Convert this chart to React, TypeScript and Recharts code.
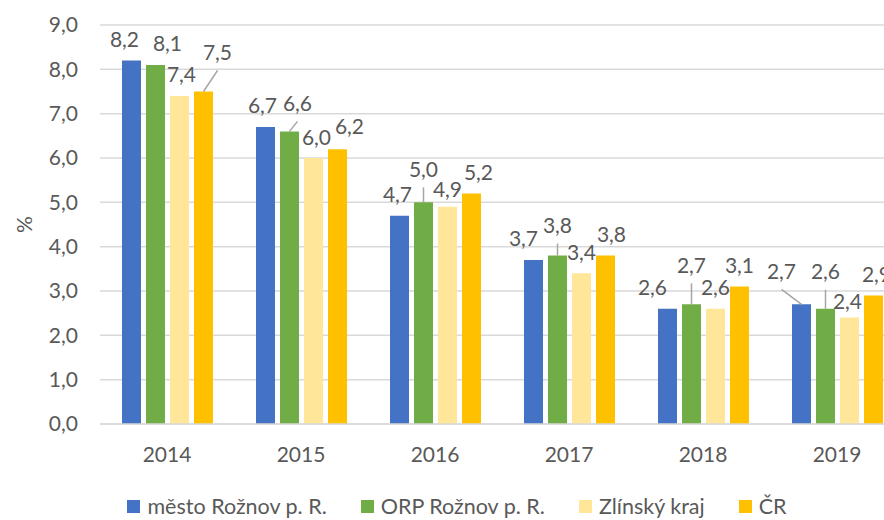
import { Bar, BarChart, CartesianGrid, LabelList, Legend, XAxis, YAxis } from 'recharts';

const years = ['2014', '2015', '2016', '2017', '2018', '2019'];
const mesto = [8.2, 6.7, 4.7, 3.7, 2.6, 2.7];
const orp = [8.1, 6.6, 5.0, 3.8, 2.7, 2.6];
const zlinsky = [7.4, 6.0, 4.9, 3.4, 2.6, 2.4];
const cr = [7.5, 6.2, 5.2, 3.8, 3.1, 2.9];
const yTicks = [0, 1, 2, 3, 4, 5, 6, 7, 8, 9];

const data = years.map((year, i) => ({
  year,
  mesto: mesto[i],
  orp: orp[i],
  zlinsky: zlinsky[i],
  cr: cr[i],
}));

// label nudges (dx, dy) like the moved Excel labels
const nudges: Record<string, number[][]> = {
  mesto: [[-7, 0], [-3, 0], [-2, 0], [-10, 0], [-15, 0], [-20, -12]],
  orp: [[12, 0], [8, -7], [0, -12], [0, -9], [0, -18], [0, -16]],
  zlinsky: [[2, 0], [3, 0], [0, 4], [0, 0], [0, 0], [-2, 5]],
  cr: [[14, -18], [12, -2], [7, 0], [6, 0], [0, 0], [3, 0]],
};

const series = [
  { key: 'mesto', name: 'město Rožnov p. R.', color: '#4472C4' },
  { key: 'orp', name: 'ORP Rožnov p. R.', color: '#70AD47' },
  { key: 'zlinsky', name: 'Zlínský kraj', color: '#FFE699' },
  { key: 'cr', name: 'ČR', color: '#FFC000' },
];

const fmt = (v: number) => v.toFixed(1).replace('.', ',');
const TEXT = '#595959';
const FONT = 'Lato, sans-serif';
const FS = 21;

const makeLabel = (key: string) => (props: any) => {
  const { x, y, width, value, index } = props;
  const [dx, dy] = nudges[key][index] || [0, 0];
  const bx = x + width / 2;
  const lx = bx + dx;
  const ly = y - 21 + dy;
  return (
    <g>
      {dy <= -7 && (
        <line x1={bx} y1={y} x2={lx} y2={ly + 18} stroke='#A6A6A6' strokeWidth={1.5} />
      )}
      <text x={lx} y={ly + 7.5} textAnchor='middle' fill={TEXT} fontSize={FS} fontFamily={FONT}>
        {fmt(value)}
      </text>
    </g>
  );
};

const renderLegend = () => (
  <div
    style={{
      height: 28,
      display: 'flex',
      justifyContent: 'center',
      alignItems: 'center',
      gap: 34,
      fontFamily: FONT,
      fontSize: 21.5,
      color: TEXT,
    }}
  >
    {series.map((s) => (
      <div key={s.key} style={{ display: 'flex', alignItems: 'center' }}>
        <span style={{ width: 13, height: 13, background: s.color, marginRight: 7 }} />
        <span>{s.name}</span>
      </div>
    ))}
  </div>
);

const App = () => {
  return (
    <div
      style={{
        position: 'absolute',
        top: 0,
        left: 0,
        width: 884,
        height: 520,
        overflow: 'hidden',
        background: '#fff',
      }}
    >
      <BarChart
        width={914}
        height={520}
        data={data}
        margin={{ top: 25, right: 10, left: 0, bottom: 0 }}
        barCategoryGap={22}
        barGap={5}
        style={{ fontFamily: FONT }}
      >
        <CartesianGrid vertical={false} stroke='#D9D9D9' strokeWidth={1.5} />
        <XAxis
          dataKey='year'
          height={68}
          axisLine={{ stroke: '#D9D9D9', strokeWidth: 1.5 }}
          tickLine={false}
          tickSize={0}
          tickMargin={23}
          tick={{ fill: TEXT, fontSize: FS, fontFamily: FONT }}
        />
        <YAxis
          width={100}
          domain={[0, 9]}
          ticks={yTicks}
          axisLine={false}
          tickLine={false}
          tickSize={0}
          tickMargin={22}
          tickFormatter={fmt}
          tick={{ fill: TEXT, fontSize: FS, fontFamily: FONT }}
          label={{
            position: 'insideLeft',
            content: (p: any) => {
              const vb = p.viewBox;
              const cx = vb.x + 25;
              const cy = vb.y + vb.height / 2;
              return (
                <text
                  x={cx}
                  y={cy}
                  dy={7}
                  textAnchor='middle'
                  transform={`rotate(-90, ${cx}, ${cy})`}
                  fill={TEXT}
                  fontSize={FS}
                  fontFamily={FONT}
                >
                  %
                </text>
              );
            },
          }}
        />
        <Legend
          verticalAlign='bottom'
          content={renderLegend}
          wrapperStyle={{ left: 0, width: 914 }}
        />
        {series.map((s) => (
          <Bar key={s.key} dataKey={s.key} name={s.name} fill={s.color} isAnimationActive={false}>
            <LabelList dataKey={s.key} content={makeLabel(s.key)} />
          </Bar>
        ))}
      </BarChart>
    </div>
  );
};

export default App;
